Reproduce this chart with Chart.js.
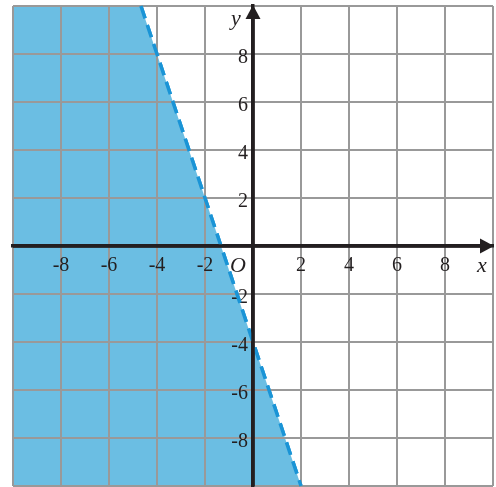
<!DOCTYPE html>
<html>
<head>
<meta charset="utf-8">
<script src="https://cdn.jsdelivr.net/npm/chart.js@4.4.1/dist/chart.umd.min.js"></script>
<style>
  html, body { margin: 0; padding: 0; background: #fff; }
  #wrap { width: 496px; height: 487px; }
</style>
</head>
<body>
<div id="wrap"><canvas id="plane"></canvas></div>
<script>
// shaded half-plane (everything left of the boundary)
const shadeX = [-10, -4.67, 2];
const shadeY = [10, 10, -10];
// dashed boundary line
const lineX = [-4.67, 2];
const lineY = [10, -10];
// tick labels shown next to the axes
const tickValues = [-8, -6, -4, -2, 2, 4, 6, 8];

const toPoints = (xs, ys) => xs.map((x, i) => ({ x, y: ys[i] }));
const FONT = '"Liberation Serif", "DejaVu Serif", serif';
const INK = '#231f20';

const tickLabel = v => tickValues.includes(v) ? String(v) : '';
// centre y axis ignores ticks.padding, so keep a space between label and axis
const yTickLabel = v => tickValues.includes(v) ? v + ' ' : '';

// centre axes should not eat into the chart area
const noSpace = scale => {
  if (scale.isHorizontal()) scale.height = 0; else scale.width = 0;
  scale.paddingLeft = scale.paddingRight = scale.paddingTop = scale.paddingBottom = 0;
};

/* arrows, axis names, redraw of the dashed line over the grid */
const overlay = {
  id: 'overlay',
  afterDraw(chart) {
    const { ctx, scales: { x, y } } = chart;
    chart.getDatasetMeta(1).controller.draw();

    const x0 = x.getPixelForValue(0), y0 = y.getPixelForValue(0);
    const right = x.getPixelForValue(10), top = y.getPixelForValue(10);
    ctx.save();
    // axis lines again so they sit above the dashed line
    ctx.strokeStyle = INK;
    ctx.lineWidth = 3.5;
    ctx.beginPath();
    ctx.moveTo(x.left, y0); ctx.lineTo(right - 8, y0);
    ctx.moveTo(x0, y.bottom); ctx.lineTo(x0, top + 8);
    ctx.stroke();

    ctx.fillStyle = INK;
    ctx.beginPath();
    ctx.moveTo(right + 1, y0);
    ctx.lineTo(right - 13, y0 - 7.5);
    ctx.lineTo(right - 13, y0 + 7.5);
    ctx.closePath();
    ctx.fill();
    ctx.beginPath();
    ctx.moveTo(x0, top - 1);
    ctx.lineTo(x0 - 7.5, top + 13);
    ctx.lineTo(x0 + 7.5, top + 13);
    ctx.closePath();
    ctx.fill();

    ctx.font = 'italic 22px ' + FONT;
    ctx.textAlign = 'center';
    ctx.textBaseline = 'middle';
    ctx.fillText('x', right - 11, y0 + 20);
    ctx.fillText('y', x0 - 17, top + 13);
    ctx.fillText('O', x0 - 15, y0 + 20);
    ctx.restore();
  }
};

new Chart(document.getElementById('plane'), {
  type: 'scatter',
  data: {
    datasets: [
      {
        data: toPoints(shadeX, shadeY),
        showLine: true,
        fill: 'start',
        backgroundColor: '#6bbee3',
        borderWidth: 0,
        pointRadius: 0,
      },
      {
        data: toPoints(lineX, lineY),
        showLine: true,
        fill: false,
        borderColor: '#1a94d6',
        borderWidth: 3.5,
        borderDash: [13, 7],
        pointRadius: 0,
      },
    ],
  },
  options: {
    responsive: true,
    maintainAspectRatio: false,
    animation: false,
    layout: { padding: { left: 13, top: 6, right: 3, bottom: 1 } },
    plugins: { legend: { display: false }, tooltip: { enabled: false } },
    scales: {
      x: {
        type: 'linear',
        position: { y: 0 },
        min: -10, max: 10,
        afterFit: noSpace,
        grid: { color: '#999999', lineWidth: 2, drawTicks: false, z: 1 },
        border: { color: INK, width: 3.5, z: 2 },
        ticks: {
          z: 3,
          stepSize: 2, autoSkip: false, maxRotation: 0, padding: 8,
          color: INK, font: { family: FONT, size: 20 },
          callback: tickLabel,
        },
      },
      y: {
        type: 'linear',
        position: { x: 0 },
        min: -10, max: 10,
        afterFit: noSpace,
        grid: { color: '#999999', lineWidth: 2, drawTicks: false, z: 1 },
        border: { color: INK, width: 3.5, z: 2 },
        ticks: {
          z: 3,
          stepSize: 2, autoSkip: false, labelOffset: 4,
          color: INK, font: { family: FONT, size: 20 },
          callback: yTickLabel,
        },
      },
    },
  },
  plugins: [overlay],
});
</script>
</body>
</html>
